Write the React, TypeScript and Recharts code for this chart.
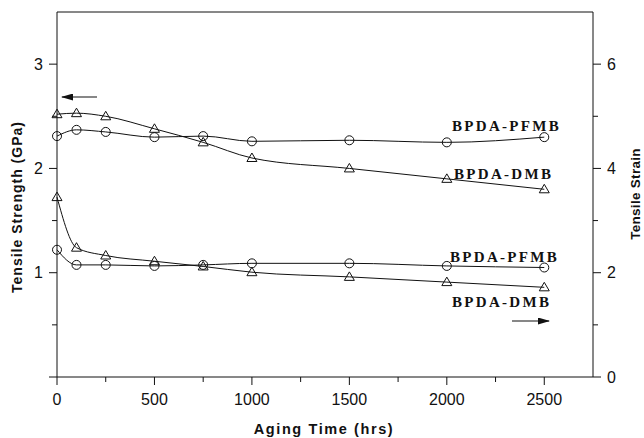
import { LineChart, Line, XAxis, YAxis } from 'recharts'

// aging time (hrs)
const hours = [0, 100, 250, 500, 750, 1000, 1500, 2000, 2500]
// tensile strength (GPa), left axis
const strengthDMB = [2.52, 2.53, 2.5, 2.38, 2.25, 2.1, 2.0, 1.9, 1.8]
const strengthPFMB = [2.31, 2.37, 2.35, 2.3, 2.31, 2.26, 2.27, 2.25, 2.3]
// tensile strain, right axis
const strainDMB = [3.45, 2.48, 2.33, 2.22, 2.12, 2.01, 1.92, 1.82, 1.72]
const strainPFMB = [2.44, 2.15, 2.15, 2.13, 2.15, 2.18, 2.18, 2.13, 2.1]

const xTicks = [0, 250, 500, 750, 1000, 1250, 1500, 1750, 2000, 2250, 2500]
const xLabels = [0, 500, 1000, 1500, 2000, 2500]
const leftTicks = [0, 0.5, 1, 1.5, 2, 2.5, 3]
const leftLabels = [1, 2, 3]
const rightTicks = [0, 1, 2, 3, 4, 5, 6]
const rightLabels = [0, 2, 4, 6]

const data = hours.map((h, i) => ({
  h,
  sDMB: strengthDMB[i],
  sPFMB: strengthPFMB[i],
  eDMB: strainDMB[i],
  ePFMB: strainPFMB[i],
}))

const SANS = '"Liberation Sans", Arial, sans-serif'
const SERIF = '"Liberation Serif", "Times New Roman", serif'
const INK = '#111'

function Circle(props: any) {
  const { cx, cy } = props
  if (cx == null || cy == null) return null
  return <circle cx={cx} cy={cy} r={4.5} fill="none" stroke={INK} strokeWidth={1} />
}

function Triangle(props: any) {
  const { cx, cy } = props
  if (cx == null || cy == null) return null
  return (
    <polygon
      points={`${cx},${cy - 5} ${cx - 5},${cy + 3.5} ${cx + 5},${cy + 3.5}`}
      fill="none"
      stroke={INK}
      strokeWidth={1}
    />
  )
}

function BottomTick(props: any) {
  const { x, y, payload } = props
  const axisY = y - 12
  const major = xLabels.includes(payload.value)
  return (
    <g>
      <line x1={x} x2={x} y1={axisY} y2={axisY + (major ? 8 : 5)} stroke={INK} />
      {major && (
        <text x={x} y={axisY + 28} textAnchor="middle" fontSize={16} fontFamily={SANS} fill={INK}>
          {payload.value}
        </text>
      )}
    </g>
  )
}

function LeftTick(props: any) {
  const { x, y, payload } = props
  const axisX = x + 13
  const major = Number.isInteger(payload.value)
  return (
    <g>
      <line x1={axisX - (major ? 8 : 5)} x2={axisX} y1={y} y2={y} stroke={INK} />
      {leftLabels.includes(payload.value) && (
        <text x={axisX - 14} y={y + 5.7} textAnchor="end" fontSize={16} fontFamily={SANS} fill={INK}>
          {payload.value}
        </text>
      )}
    </g>
  )
}

function RightTick(props: any) {
  const { x, y, payload } = props
  const axisX = x - 13
  const major = payload.value % 2 === 0
  return (
    <g>
      <line x1={axisX} x2={axisX + (major ? 8 : 5)} y1={y} y2={y} stroke={INK} />
      {rightLabels.includes(payload.value) && (
        <text x={axisX + 14} y={y + 5.7} textAnchor="start" fontSize={16} fontFamily={SANS} fill={INK}>
          {payload.value}
        </text>
      )}
    </g>
  )
}

const tag = { fontFamily: SERIF, fontWeight: 700, fontSize: 15, letterSpacing: 2.3, fill: INK }

export default function App() {
  return (
    <div style={{ position: 'absolute', left: 0, top: 0, width: 644, height: 438, background: '#fff' }}>
      <LineChart width={644} height={438} data={data} margin={{ top: 12, right: 0, bottom: 0, left: 0 }}>
        <XAxis
          xAxisId="top"
          orientation="top"
          dataKey="h"
          type="number"
          domain={[0, 2750]}
          ticks={xTicks.slice(1)}
          tick={false}
          tickSize={3}
          mirror
          height={12}
          stroke={INK}
        />
        <XAxis
          dataKey="h"
          type="number"
          domain={[0, 2750]}
          ticks={xTicks}
          tick={<BottomTick />}
          tickLine={false}
          tickSize={8}
          tickMargin={4}
          height={61}
          stroke={INK}
          interval={0}
        />
        <YAxis
          yAxisId="left"
          domain={[0, 3.5]}
          ticks={leftTicks}
          tick={<LeftTick />}
          tickLine={false}
          tickSize={8}
          tickMargin={5}
          width={57}
          stroke={INK}
          interval={0}
        />
        <YAxis
          yAxisId="right"
          orientation="right"
          domain={[0, 7]}
          ticks={rightTicks}
          tick={<RightTick />}
          tickLine={false}
          tickSize={8}
          tickMargin={5}
          width={51}
          stroke={INK}
          interval={0}
        />
        <Line yAxisId="left" dataKey="sDMB" type="monotone" stroke={INK} strokeWidth={1} dot={<Triangle />} isAnimationActive={false} />
        <Line yAxisId="left" dataKey="sPFMB" type="monotone" stroke={INK} strokeWidth={1} dot={<Circle />} isAnimationActive={false} />
        <Line yAxisId="right" dataKey="eDMB" type="monotone" stroke={INK} strokeWidth={1} dot={<Triangle />} isAnimationActive={false} />
        <Line yAxisId="right" dataKey="ePFMB" type="monotone" stroke={INK} strokeWidth={1} dot={<Circle />} isAnimationActive={false} />
      </LineChart>

      {/* titles, series tags and direction arrows */}
      <svg width={644} height={438} style={{ position: 'absolute', left: 0, top: 0, pointerEvents: 'none' }}>
        <defs>
          <marker id="head" viewBox="0 0 12 7" refX="11" refY="3.5" markerWidth="12" markerHeight="7" markerUnits="userSpaceOnUse" orient="auto">
            <path d="M0,0 L12,3.5 L0,7 Z" fill={INK} />
          </marker>
        </defs>
        <text x={324} y={434} textAnchor="middle" fontFamily={SANS} fontWeight={700} fontSize={14.5} letterSpacing={1.6} fill={INK}>
          Aging Time (hrs)
        </text>
        <text transform="translate(22,207) rotate(-90)" textAnchor="middle" fontFamily={SANS} fontWeight={700} fontSize={14} letterSpacing={1} fill={INK}>
          Tensile Strength (GPa)
        </text>
        <text transform="translate(640,194) rotate(-90)" textAnchor="middle" fontFamily={SANS} fontWeight={700} fontSize={13.5} letterSpacing={0.3} fill={INK}>
          Tensile Strain
        </text>
        <text x={452} y={131} {...tag}>BPDA-PFMB</text>
        <text x={454} y={179} {...tag}>BPDA-DMB</text>
        <text x={450} y={262} {...tag}>BPDA-PFMB</text>
        <text x={452} y={307} {...tag}>BPDA-DMB</text>
        <line x1={97} y1={97} x2={62} y2={97} stroke={INK} strokeWidth={1.2} markerEnd="url(#head)" />
        <line x1={512} y1={321} x2={549} y2={321} stroke={INK} strokeWidth={1.2} markerEnd="url(#head)" />
      </svg>
    </div>
  )
}
